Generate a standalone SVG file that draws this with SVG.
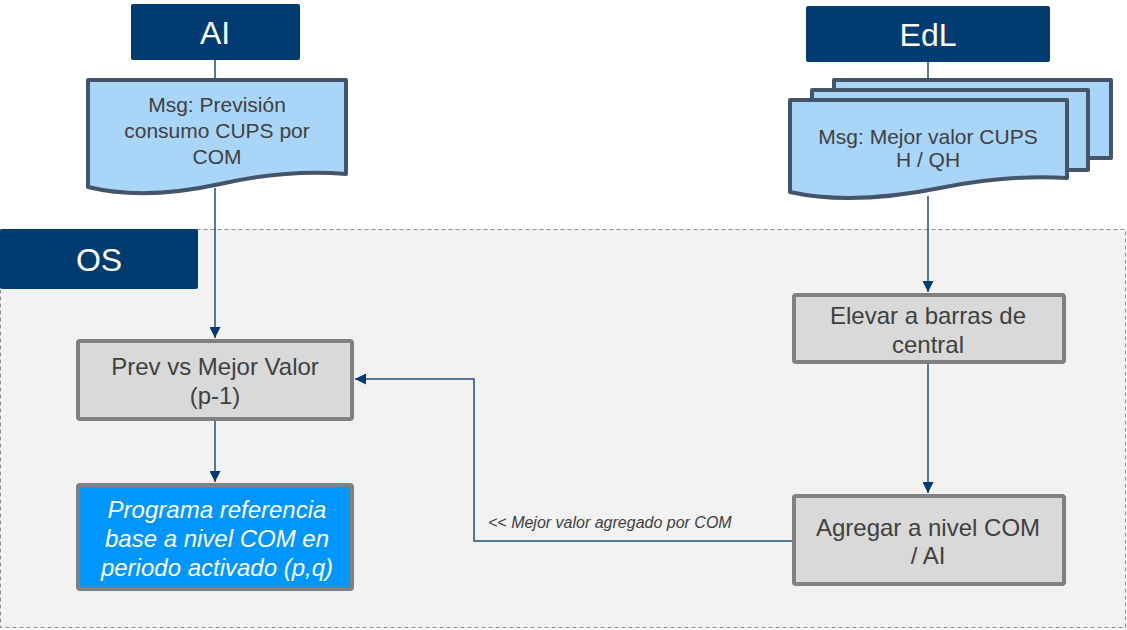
<svg xmlns="http://www.w3.org/2000/svg" width="1127" height="630" viewBox="0 0 1127 630">
<style>
.hdr{fill:#003b71}
.hdrt{fill:#fff;font-family:"Liberation Sans",Arial,sans-serif;font-size:32px;text-anchor:middle}
.doc{fill:#a9d5f8;stroke:#44546a;stroke-width:4;stroke-linejoin:round}
.doct{fill:#404040;font-family:"Liberation Sans",Arial,sans-serif;font-size:21px;text-anchor:middle}
.box{fill:#d9d9d9;stroke:#808080;stroke-width:4}
.boxt{fill:#404040;font-family:"Liberation Sans",Arial,sans-serif;font-size:24px;text-anchor:middle}
.blue{fill:#0096ff;stroke:#808080;stroke-width:4}
.bluet{fill:#fff;font-family:"Liberation Sans",Arial,sans-serif;font-size:24px;font-style:italic;text-anchor:middle}
.con{fill:none;stroke:#1f4e79;stroke-width:1.5}
.lbl{fill:#404040;font-family:"Liberation Sans",Arial,sans-serif;font-size:16px;font-style:italic}
</style>
<defs>
<marker id="ah" viewBox="0 0 10 10" refX="10" refY="5" markerWidth="11" markerHeight="11" markerUnits="userSpaceOnUse" orient="auto"><path d="M0,0 L10,5 L0,10 Z" fill="#003b71"/></marker>
</defs>
<rect width="1127" height="630" fill="#fff"/>
<g id="os">
<rect x="0.5" y="229.5" width="1125" height="398" fill="#f2f2f2" stroke="#8c8c8c" stroke-width="1" stroke-dasharray="4,3"/>
<rect class="hdr" x="0" y="229" width="198" height="60" rx="2"/>
<text class="hdrt" x="99" y="271">OS</text>
</g>
<g id="connectors">
<line class="con" x1="215" y1="60" x2="215" y2="82"/>
<line class="con" x1="928" y1="62" x2="928" y2="80"/>
<line class="con" x1="215" y1="188" x2="215" y2="338" marker-end="url(#ah)"/>
<line class="con" x1="928" y1="196" x2="928" y2="292" marker-end="url(#ah)"/>
<line class="con" x1="928" y1="363" x2="928" y2="493" marker-end="url(#ah)"/>
<line class="con" x1="215" y1="420" x2="215" y2="482" marker-end="url(#ah)"/>
<polyline class="con" points="793,541 474,541 474,379 355,379" marker-end="url(#ah)"/>
<text class="lbl" x="488" y="528">&lt;&lt; Mejor valor agregado por COM</text>
</g>
<g id="ai">
<rect class="hdr" x="131" y="4" width="169" height="56" rx="2"/>
<text class="hdrt" x="215" y="44">AI</text>
</g>
<g id="edl">
<rect class="hdr" x="806" y="6" width="244" height="56" rx="2"/>
<text class="hdrt" x="928" y="46">EdL</text>
</g>
<g id="msg-prevision">
<path class="doc" d="M88,80 H346 V174 C300,170 260,175 220,184 C170,195 125,196 88,187 Z"/>
<text class="doct" x="217" y="112">Msg: Previsión</text>
<text class="doct" x="217" y="138">consumo CUPS por</text>
<text class="doct" x="217" y="164">COM</text>
</g>
<g id="msg-mejor-valor">
<rect class="doc" x="834" y="80" width="277" height="78"/>
<rect class="doc" x="812" y="90" width="276" height="80"/>
<path class="doc" d="M790,100 H1067 V178 C1020,175 980,180 940,188 C880,200 830,201 790,192 Z"/>
<text class="doct" x="928" y="144">Msg: Mejor valor CUPS</text>
<text class="doct" x="928" y="167">H / QH</text>
</g>
<g id="prev-vs-mejor">
<rect class="box" x="78" y="341" width="274" height="78" rx="2"/>
<text class="boxt" x="215" y="375">Prev vs Mejor Valor</text>
<text class="boxt" x="215" y="404">(p-1)</text>
</g>
<g id="programa">
<rect class="blue" x="78" y="485" width="274" height="104" rx="2"/>
<text class="bluet" x="217" y="518">Programa referencia</text>
<text class="bluet" x="217" y="547">base a nivel COM en</text>
<text class="bluet" x="217" y="576">periodo activado (p,q)</text>
</g>
<g id="elevar">
<rect class="box" x="794" y="295" width="270" height="67" rx="2"/>
<text class="boxt" x="928" y="324">Elevar a barras de</text>
<text class="boxt" x="928" y="353">central</text>
</g>
<g id="agregar">
<rect class="box" x="794" y="496" width="270" height="88" rx="2"/>
<text class="boxt" x="928" y="536">Agregar a nivel COM</text>
<text class="boxt" x="928" y="564">/ AI</text>
</g>
</svg>
